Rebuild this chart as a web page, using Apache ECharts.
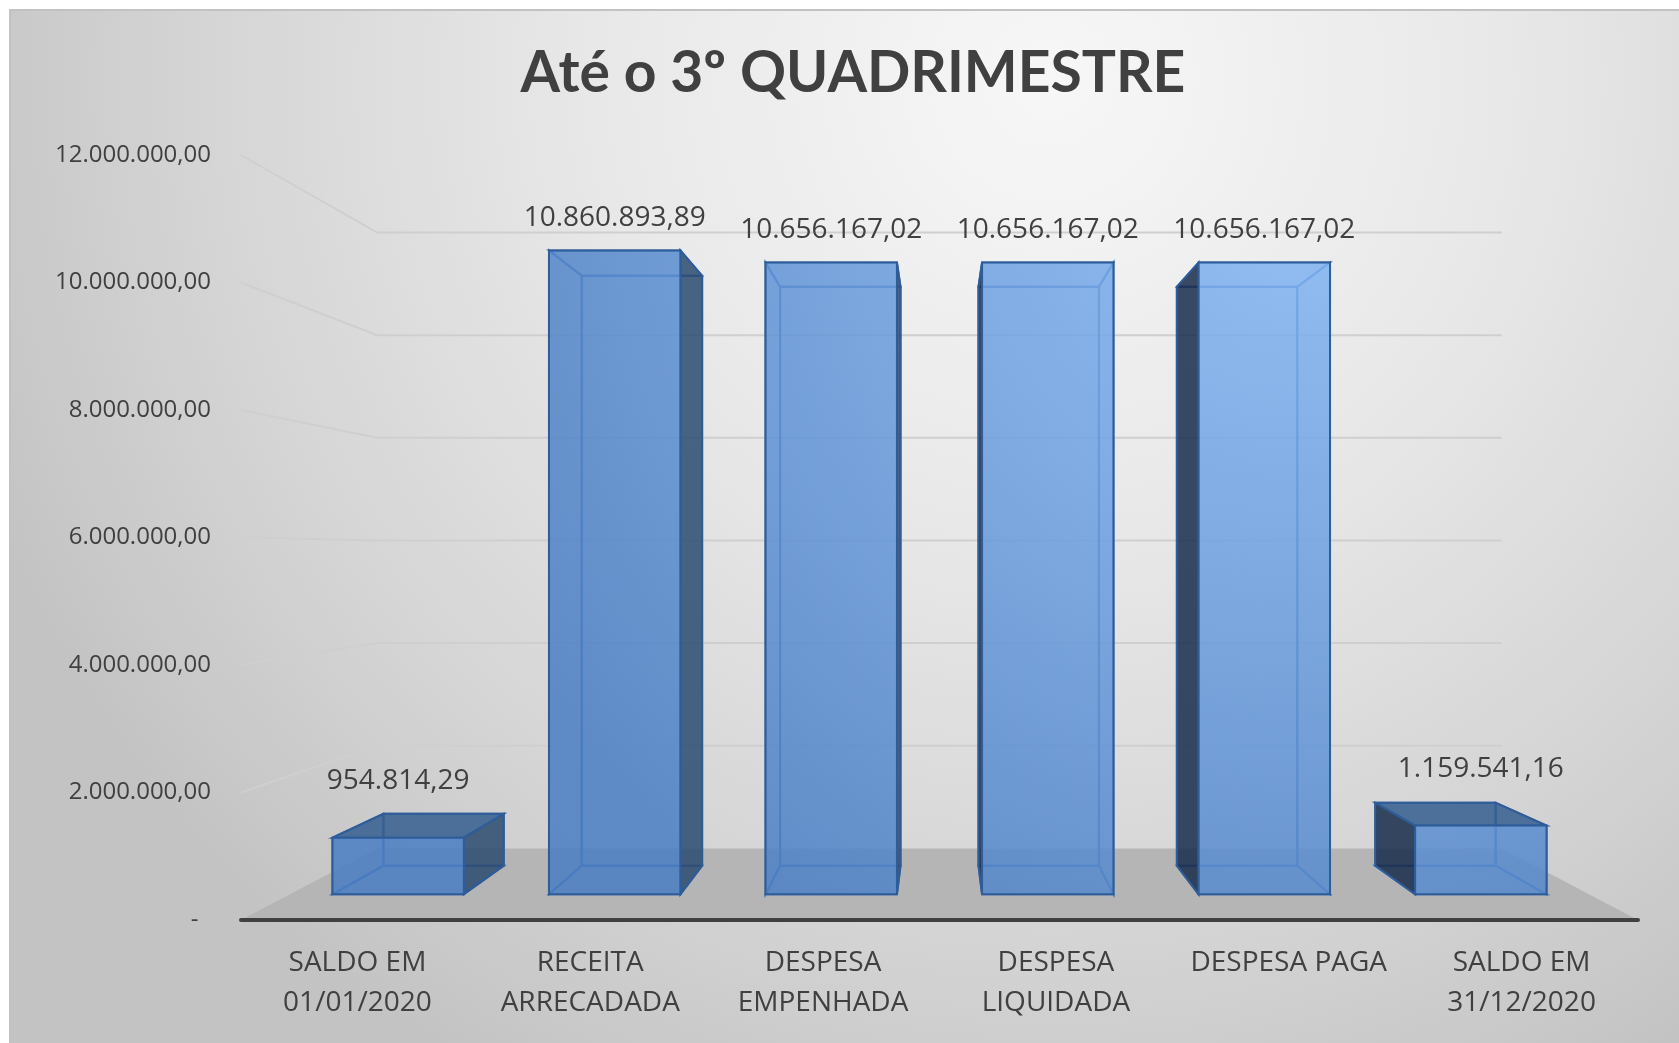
<!DOCTYPE html>
<html>
<head>
<meta charset="utf-8">
<title>Até o 3º QUADRIMESTRE</title>
<script src="https://cdn.jsdelivr.net/npm/echarts@6/dist/echarts.min.js"></script>
<style>
  html, body { margin: 0; padding: 0; background: #fff; }
  #chart { width: 1679px; height: 1043px; }
</style>
</head>
<body>
<div id="chart"></div>
<script>
// dados do grafico
const categories = ['SALDO EM\n01/01/2020', 'RECEITA\nARRECADADA', 'DESPESA\nEMPENHADA', 'DESPESA\nLIQUIDADA', 'DESPESA PAGA', 'SALDO EM\n31/12/2020'];
const values = [954814.29, 10860893.89, 10656167.02, 10656167.02, 10656167.02, 1159541.16];
const yTicks = [0, 2000000, 4000000, 6000000, 8000000, 10000000, 12000000];

// perspectiva imitando o grafico 3D do Excel
const VANISH_VALUE = 5760000;  // altura do ponto de fuga, em unidades do eixo
const WALL_DEPTH = 0.805;      // parede do fundo
const BAR_FRONT = 0.93;        // face da frente das barras
const BAR_BACK = 0.852;        // face de tras das barras
const BAR_WIDTH = 0.607;       // fracao da categoria

const FONT = '"Open Sans", "DejaVu Sans", sans-serif';

function fmtBR(v) {
  const parts = v.toFixed(2).split('.');
  return parts[0].replace(/\B(?=(\d{3})+(?!\d))/g, '.') + ',' + parts[1];
}

function perspective(params, api) {
  const cs = params.coordSys;
  const vx = cs.x + cs.width / 2;
  const vy = api.coord([0, VANISH_VALUE])[1];
  const P = (x, y, s) => [vx + s * (x - vx), vy + s * (y - vy)];
  return { P, vx, vy };
}

const chart = echarts.init(document.getElementById('chart'));

// linhas de grade: parede lateral esquerda + parede do fundo
function renderGrid(params, api) {
  const cs = params.coordSys;
  const { P } = perspective(params, api);
  const y = api.coord([0, api.value(1)])[1];
  const left = cs.x, right = cs.x + cs.width;
  return {
    type: 'polyline',
    shape: { points: [[left, y], P(left, y, WALL_DEPTH), P(right, y, WALL_DEPTH)] },
    style: { stroke: '#cfcfcf', lineWidth: 2, fill: null }
  };
}

// piso cinza
function renderFloor(params, api) {
  const cs = params.coordSys;
  const { P } = perspective(params, api);
  const y0 = api.coord([0, 0])[1];
  const left = cs.x, right = cs.x + cs.width;
  return {
    type: 'polygon',
    shape: { points: [[left, y0], [right, y0], P(right, y0, WALL_DEPTH), P(left, y0, WALL_DEPTH)] },
    style: { fill: '#b5b5b5' }
  };
}

// caixas 3D
function renderBar(params, api) {
  const cs = params.coordSys;
  const i = api.value(0), v = api.value(1);
  const { P, vx, vy } = perspective(params, api);
  const c = api.coord([i, 0]);
  const t = api.coord([i, v]);
  const hw = api.size([1, 0])[0] * BAR_WIDTH / 2;
  const xl = c[0] - hw, xr = c[0] + hw, y0 = c[1], y1 = t[1];
  const f = [P(xl, y0, BAR_FRONT), P(xr, y0, BAR_FRONT), P(xr, y1, BAR_FRONT), P(xl, y1, BAR_FRONT)];
  const b = [P(xl, y0, BAR_BACK), P(xr, y0, BAR_BACK), P(xr, y1, BAR_BACK), P(xl, y1, BAR_BACK)];

  const back = b;
  const leftF = [f[0], b[0], b[3], f[3]];
  const rightF = [f[1], b[1], b[2], f[2]];
  const topF = [f[3], f[2], b[2], b[3]];
  const bottomF = [f[0], f[1], b[1], b[0]];

  const rightVisible = xr < vx;
  const leftVisible = xl > vx;
  const topVisible = y1 > vy;

  const edge = '#2f5d99';
  const inner = '#3f6eae';
  const hidden = (pts) => ({ type: 'polygon', shape: { points: pts }, style: { fill: null, stroke: inner, lineWidth: 2 } });

  const frontFill = new echarts.graphic.RadialGradient(
    cs.x + cs.width * 0.76, cs.y + cs.height * 0.08, 900,
    [{ offset: 0, color: 'rgba(132,182,244,0.86)' }, { offset: 1, color: 'rgba(74,125,194,0.86)' }],
    true
  );

  const children = [];
  children.push(hidden(back));
  children.push(hidden(bottomF));
  if (!rightVisible) children.push(hidden(rightF));
  if (!leftVisible) children.push(hidden(leftF));
  if (!topVisible) children.push(hidden(topF));

  if (rightVisible) children.push({ type: 'polygon', shape: { points: rightF }, style: { fill: 'rgba(43,75,112,0.85)', stroke: edge, lineWidth: 2 } });
  if (leftVisible) children.push({ type: 'polygon', shape: { points: leftF }, style: { fill: 'rgba(24,45,74,0.85)', stroke: edge, lineWidth: 2 } });
  if (topVisible) children.push({ type: 'polygon', shape: { points: topF }, style: { fill: 'rgba(52,94,142,0.85)', stroke: edge, lineWidth: 2 } });
  children.push({ type: 'polygon', shape: { points: f }, style: { fill: frontFill, stroke: edge, lineWidth: 2 } });

  // rotulo do valor
  children.push({
    type: 'text',
    x: (f[2][0] + f[3][0]) / 2,
    y: (f[3][1] + b[3][1]) / 2 - 45,
    style: {
      text: fmtBR(v), fill: '#404040', font: '28px ' + FONT,
      align: 'center', verticalAlign: 'middle', textAlign: 'center', textVerticalAlign: 'middle'
    }
  });

  return { type: 'group', children };
}

chart.setOption({
  backgroundColor: '#ffffff',
  animation: false,
  graphic: [{
    type: 'rect',
    z: -100,
    silent: true,
    shape: { x: 10, y: 10, width: 1700, height: 1080 },
    style: {
      fill: new echarts.graphic.RadialGradient(1050, 80, 1150, [
        { offset: 0, color: '#f7f7f7' },
        { offset: 0.4, color: '#e8e8e8' },
        { offset: 0.75, color: '#d4d4d4' },
        { offset: 1, color: '#c3c3c3' }
      ], true),
      stroke: '#c2c2c2',
      lineWidth: 2
    }
  }],
  title: {
    text: 'Até o 3º QUADRIMESTRE',
    left: 848,
    top: 34,
    textAlign: 'center',
    textStyle: { fontFamily: 'Lato, "Open Sans", sans-serif', fontWeight: 'bold', fontSize: 57, color: '#404040', lineHeight: 70 }
  },
  grid: { left: 241, right: 41, top: 155, bottom: 123 },
  xAxis: {
    type: 'category',
    data: categories,
    z: 10,
    axisLine: { lineStyle: { color: '#404040', width: 4 } },
    axisTick: { show: false },
    axisLabel: { interval: 0, color: '#404040', fontSize: 28, lineHeight: 40, margin: 23, fontFamily: FONT }
  },
  yAxis: {
    type: 'value',
    min: 0,
    max: 12000000,
    interval: 2000000,
    axisLine: { show: false },
    axisTick: { show: false },
    splitLine: { show: false },
    axisLabel: {
      color: '#404040', fontSize: 24, margin: 30, fontFamily: FONT,
      formatter: (v) => (v === 0 ? '-  ' : fmtBR(v))
    }
  },
  series: [
    { type: 'custom', name: 'grade', silent: true, z: 1, renderItem: renderGrid, data: yTicks.filter((v) => v > 0).map((v) => [0, v]) },
    { type: 'custom', name: 'piso', silent: true, z: 2, renderItem: renderFloor, data: [[0, 0]] },
    { type: 'custom', name: 'valores', z: 3, renderItem: renderBar, data: values.map((v, i) => [i, v]) }
  ]
});
</script>
</body>
</html>
